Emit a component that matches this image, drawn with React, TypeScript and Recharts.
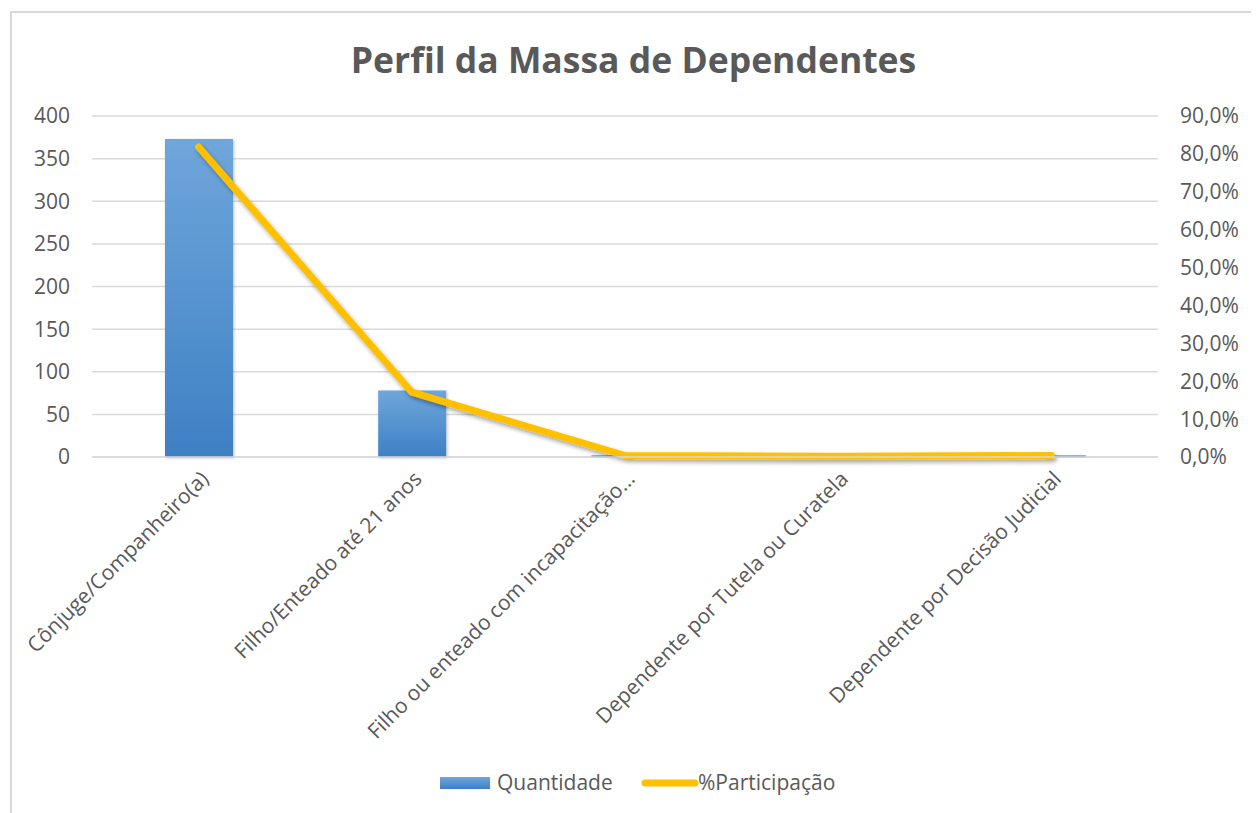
import React from 'react'
import { Bar, CartesianGrid, ComposedChart, Legend, Line, XAxis, YAxis } from 'recharts'

const categorias = [
    'Cônjuge/Companheiro(a)',
    'Filho/Enteado até 21 anos',
    'Filho ou enteado com incapacitação...',
    'Dependente por Tutela ou Curatela',
    'Dependente por Decisão Judicial',
]
const quantidade = [373, 78, 2, 1, 2]
const participacao = [81.8, 17.1, 0.4, 0.2, 0.4]
const ticksQtd = [0, 50, 100, 150, 200, 250, 300, 350, 400]
const ticksPct = [0, 10, 20, 30, 40, 50, 60, 70, 80, 90]

const data = categorias.map((categoria, i) => ({
    categoria,
    quantidade: quantidade[i],
    participacao: participacao[i],
}))

const FONT = '"Open Sans", sans-serif'
const GRAY = '#595959'

const fmtPct = (v: number) => v.toFixed(1).replace('.', ',') + '%'

const XTick = ({ x, y, payload }: any) => {
    const tx = x + 6
    const ty = y + 10
    return (
        <text
            x={tx}
            y={ty}
            dy="0.35em"
            textAnchor="end"
            transform={`rotate(-45 ${tx} ${ty})`}
            fill={GRAY}
            fontSize={21}
            fontFamily={FONT}
        >
            {payload.value}
        </text>
    )
}

const LegendContent = () => (
    <svg width={1243} height={30}>
        <rect x={428} y={9} width={50} height={12} fill="url(#barFill)" />
        <text x={485} y={15} dy="0.35em" fill={GRAY} fontSize={21} fontFamily={FONT}>Quantidade</text>
        <line x1={633} y1={15} x2={683} y2={15} stroke="#FFC000" strokeWidth={7} strokeLinecap="round" />
        <text x={686} y={15} dy="0.35em" fill={GRAY} fontSize={21} fontFamily={FONT}>%Participação</text>
    </svg>
)

export default function App() {
    return (
        <div style={{
            position: 'relative', marginLeft: 2, marginTop: 3, width: 1243, height: 800,
            border: '2px solid #d9d9d9', borderBottom: 'none', background: '#fff',
        }}>
            <div style={{
                position: 'absolute', top: 22, left: 0, width: 1243, textAlign: 'center',
                fontFamily: FONT, fontWeight: 700, fontSize: 35.5, color: GRAY,
            }}>
                Perfil da Massa de Dependentes
            </div>
            <ComposedChart
                width={1243}
                height={800}
                data={data}
                margin={{ top: 103, right: 0, left: 0, bottom: 15 }}
                barSize={68}
            >
                <defs>
                    <linearGradient id="barFill" x1="0" y1="0" x2="0" y2="1">
                        <stop offset="0%" stopColor="#6fa6db" />
                        <stop offset="100%" stopColor="#3e80c4" />
                    </linearGradient>
                    <filter id="lineShadow" x="-10%" y="-10%" width="130%" height="130%">
                        <feDropShadow dx="2" dy="3" stdDeviation="2" floodColor="#000" floodOpacity="0.35" />
                    </filter>
                    <filter id="barShadow" x="-20%" y="-10%" width="140%" height="130%">
                        <feDropShadow dx="1" dy="1" stdDeviation="1.5" floodColor="#000" floodOpacity="0.25" />
                    </filter>
                </defs>
                <CartesianGrid vertical={false} stroke="#d9d9d9" strokeWidth={1.5} yAxisId="qtd" />
                <XAxis
                    dataKey="categoria"
                    interval={0}
                    height={311}
                    tick={<XTick />}
                    tickLine={false}
                    axisLine={{ stroke: '#d9d9d9', strokeWidth: 1.5 }}
                />
                <YAxis
                    yAxisId="qtd"
                    width={80}
                    domain={[0, 400]}
                    ticks={ticksQtd}
                    tickLine={false}
                    axisLine={false}
                    tickMargin={16}
                    tick={{ fill: GRAY, fontSize: 21, fontFamily: FONT }}
                />
                <YAxis
                    yAxisId="pct"
                    orientation="right"
                    width={97}
                    domain={[0, 90]}
                    ticks={ticksPct}
                    tickFormatter={fmtPct}
                    tickLine={false}
                    axisLine={false}
                    tickMargin={16}
                    tick={{ fill: GRAY, fontSize: 21, fontFamily: FONT, textAnchor: 'start' }}
                />
                <Bar
                    yAxisId="qtd"
                    dataKey="quantidade"
                    name="Quantidade"
                    fill="url(#barFill)"
                    filter="url(#barShadow)"
                    isAnimationActive={false}
                />
                <Line
                    yAxisId="pct"
                    dataKey="participacao"
                    name="%Participação"
                    stroke="#FFC000"
                    strokeWidth={7}
                    strokeLinecap="round"
                    strokeLinejoin="round"
                    dot={false}
                    activeDot={false}
                    filter="url(#lineShadow)"
                    isAnimationActive={false}
                />
                <Legend verticalAlign="bottom" height={30} content={<LegendContent />} />
            </ComposedChart>
        </div>
    )
}
